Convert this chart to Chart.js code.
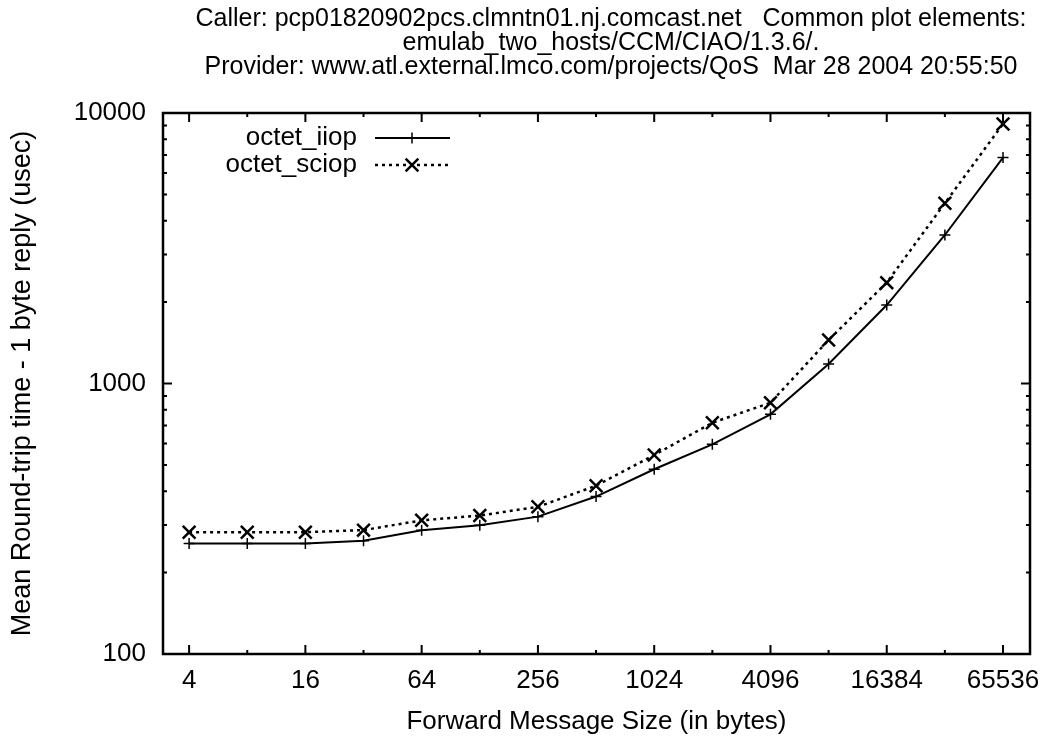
<!DOCTYPE html>
<html>
<head>
<meta charset="utf-8">
<script src="https://cdn.jsdelivr.net/npm/chart.js@4/dist/chart.umd.min.js"></script>
<style>
  body { margin: 0; background: #fff; }
  #wrap { width: 1052px; height: 736px; position: relative; }
</style>
</head>
<body>
<div id="wrap"><canvas id="myChart"></canvas></div>
<script>
// message sizes (bytes) and round trip times (usec)
const sizes = [4, 8, 16, 32, 64, 128, 256, 512, 1024, 2048, 4096, 8192, 16384, 32768, 65536];
const iiop  = [256, 256, 256, 262, 287, 299, 322, 382, 482, 596, 769, 1180, 1950, 3540, 6840];
const sciop = [282, 282, 282, 287, 312, 325, 350, 419, 544, 716, 849, 1448, 2360, 4640, 9110];

const xTickLabels = [4, 16, 64, 256, 1024, 4096, 16384, 65536];
const yTickLabels = [100, 1000, 10000];
const seriesNames = ['octet_iiop', 'octet_sciop'];

const titleLines = [
    'Caller: pcp01820902pcs.clmntn01.nj.comcast.net   Common plot elements:',
    'emulab_two_hosts/CCM/CIAO/1.3.6/.',
    'Provider: www.atl.external.lmco.com/projects/QoS  Mar 28 2004 20:55:50'
];

const FONT = '"Liberation Sans", Arial, sans-serif';

// gnuplot style frame with inward ticks, title and key
const gnuplotBits = {
    id: 'gnuplotBits',
    afterDatasetsDraw(chart) {
        const ctx = chart.ctx;
        const a = chart.chartArea;
        const xs = chart.scales.x, ys = chart.scales.y;
        ctx.save();
        ctx.strokeStyle = '#000';
        ctx.lineWidth = 2.5;
        ctx.strokeRect(a.left, a.top, a.right - a.left, a.bottom - a.top);

        ctx.lineWidth = 2;
        ctx.beginPath();
        // x ticks on bottom and top
        sizes.forEach(v => {
            const px = xs.getPixelForValue(v);
            const len = xTickLabels.includes(v) ? 9 : 4;
            ctx.moveTo(px, a.bottom); ctx.lineTo(px, a.bottom - len);
            ctx.moveTo(px, a.top); ctx.lineTo(px, a.top + len);
        });
        // y ticks left and right, with minor ones
        for (let dec = 100; dec <= 10000; dec *= 10) {
            for (let m = 1; m <= 9; m++) {
                const v = dec * m;
                if (v > 10000) break;
                const py = ys.getPixelForValue(v);
                const len = m === 1 ? 9 : 4;
                ctx.moveTo(a.left, py); ctx.lineTo(a.left + len, py);
                ctx.moveTo(a.right, py); ctx.lineTo(a.right - len, py);
            }
        }
        ctx.stroke();
        ctx.restore();
    },
    afterDraw(chart) {
        const ctx = chart.ctx;
        ctx.save();
        ctx.fillStyle = '#000';
        ctx.font = '25px ' + FONT;
        ctx.textAlign = 'center';
        ctx.textBaseline = 'middle';
        titleLines.forEach((t, i) => ctx.fillText(t, 611, 19 + i * 24));

        // key
        ctx.font = '26px ' + FONT;
        chart.data.datasets.forEach((ds, i) => {
            const y = 138 + i * 27;
            ctx.textAlign = 'right';
            ctx.fillText(ds.label, 357, y);
            ctx.strokeStyle = ds.borderColor;
            ctx.lineWidth = ds.borderWidth;
            ctx.setLineDash(ds.borderDash || []);
            ctx.beginPath();
            ctx.moveTo(375, y); ctx.lineTo(450, y);
            ctx.stroke();
            ctx.setLineDash([]);
            ctx.lineWidth = ds.pointBorderWidth;
            Chart.helpers.drawPoint(ctx, {
                pointStyle: ds.pointStyle, radius: ds.pointRadius,
                borderWidth: ds.pointBorderWidth, rotation: 0
            }, 412, y);
        });
        ctx.restore();
    }
};

const ctx = document.getElementById('myChart').getContext('2d');
const myChart = new Chart(ctx, {
    type: 'line',
    data: {
        datasets: [{
            label: seriesNames[0],
            data: sizes.map((s, i) => ({ x: s, y: iiop[i] })),
            borderColor: '#000',
            backgroundColor: '#000',
            borderWidth: 2,
            pointStyle: 'cross',
            pointRadius: 5.5,
            pointBorderWidth: 1.5,
            pointBorderColor: '#000',
            tension: 0
        }, {
            label: seriesNames[1],
            data: sizes.map((s, i) => ({ x: s, y: sciop[i] })),
            borderColor: '#000',
            backgroundColor: '#000',
            borderWidth: 2.5,
            borderDash: [3, 4],
            pointStyle: 'crossRot',
            pointRadius: 9,
            pointBorderWidth: 2.5,
            pointBorderColor: '#000',
            tension: 0
        }]
    },
    options: {
        responsive: true,
        maintainAspectRatio: false,
        devicePixelRatio: 1,
        animation: false,
        layout: { padding: { top: 113, right: 22, left: 0, bottom: 0 } },
        plugins: {
            legend: { display: false },
            title: { display: false },
            tooltip: { enabled: false }
        },
        scales: {
            x: {
                type: 'logarithmic',
                min: 2.93,
                max: 90400,
                afterBuildTicks: s => { s.ticks = xTickLabels.map(v => ({ value: v })); },
                afterFit: s => { s.height = 82; },
                grid: { display: false, drawTicks: false },
                border: { display: false },
                ticks: {
                    callback: v => String(v),
                    color: '#000',
                    font: { size: 26, family: FONT, lineHeight: 1.2 },
                    padding: 11,
                    maxRotation: 0,
                    autoSkip: false
                },
                title: {
                    display: true,
                    text: 'Forward Message Size (in bytes)',
                    color: '#000',
                    font: { size: 26, family: FONT, lineHeight: 1.0 },
                    padding: { top: 0, bottom: 1 }
                }
            },
            y: {
                type: 'logarithmic',
                min: 100,
                max: 10000,
                afterBuildTicks: s => { s.ticks = yTickLabels.map(v => ({ value: v })); },
                afterFit: s => { s.width = 163; },
                grid: { display: false, drawTicks: false },
                border: { display: false },
                ticks: {
                    callback: v => String(v),
                    color: '#000',
                    font: { size: 26, family: FONT },
                    padding: 17
                },
                title: {
                    display: true,
                    text: 'Mean Round-trip time - 1 byte reply (usec)',
                    color: '#000',
                    font: { size: 27, family: FONT, lineHeight: 1.0 },
                    padding: { top: 9, bottom: 0 }
                }
            }
        }
    },
    plugins: [gnuplotBits]
});
</script>
</body>
</html>
